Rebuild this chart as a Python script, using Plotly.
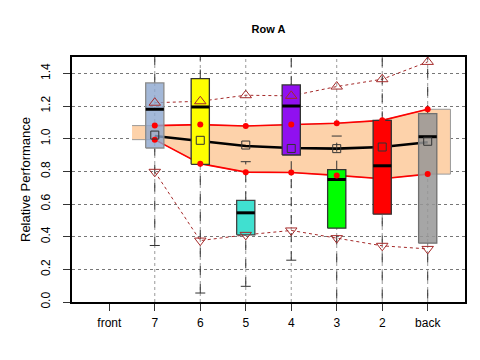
import plotly.graph_objects as go

# categories along the x axis (front has no box)
categories = ["front", "7", "6", "5", "4", "3", "2", "back"]
box_pos = [2, 3, 4, 5, 6, 7, 8]

# box statistics per position 7 .. back
q1 = [0.943, 0.843, 0.411, 0.900, 0.452, 0.538, 0.360]
q3 = [1.341, 1.368, 0.622, 1.329, 0.810, 1.112, 1.153]
median = [1.180, 1.194, 0.546, 1.200, 0.750, 0.834, 1.012]
whisk_lo = [0.346, 0.055, 0.096, 0.256, -0.20, -0.20, -0.20]
whisk_hi = [1.70, 1.70, 0.859, 1.70, 1.016, 1.70, 1.70]
box_fill = ["rgba(140,166,206,0.8)", "#FFFF00", "#40E0D0", "#9010F0",
            "#00FF00", "#FF0000", "rgba(150,150,150,0.85)"]
box_edge = ["#8A8A8A", "#333333", "#444444", "#333333",
            "#333333", "#333333", "#707070"]

# summary lines
mean_sq = [1.022, 0.990, 0.961, 0.940, 0.939, 0.949, 0.984]
trend = [1.016, 0.984, 0.955, 0.943, 0.939, 0.949, 0.978]
band_hi = [1.080, 1.086, 1.078, 1.086, 1.094, 1.112, 1.180]
band_lo = [0.994, 0.847, 0.795, 0.793, 0.775, 0.755, 0.783]
tri_up = [1.220, 1.229, 1.266, 1.262, 1.319, 1.364, 1.470]
tri_dn = [0.797, 0.376, 0.411, 0.438, 0.391, 0.344, 0.325]

y_ticks = [0.0, 0.2, 0.4, 0.6, 0.8, 1.0, 1.2, 1.4]

BROWN = "#A52A2A"
HALF = 0.2   # half box width
CAP = 0.11   # half cap width

fig = go.Figure()

# vertical grid at the box positions
for p in box_pos:
    fig.add_vline(x=p, line=dict(color="#999999", width=1, dash="dot"), layer="below")

# peach band, extended half a step past the first and last box
bx = [box_pos[0] - 0.5] + box_pos + [box_pos[-1] + 0.5, box_pos[-1] + 0.5] \
    + box_pos[::-1] + [box_pos[0] - 0.5]
by = [band_hi[0]] + band_hi + [band_hi[-1], band_lo[-1]] + band_lo[::-1] + [band_lo[0]]
fig.add_trace(go.Scatter(x=bx, y=by, mode="lines", fill="toself",
                         fillcolor="#FDD2AA", line=dict(color="#9A9A9A", width=1)))

# red band edges
for ys in (band_hi, band_lo):
    fig.add_trace(go.Scatter(x=box_pos, y=ys, mode="lines",
                             line=dict(color="#FF0000", width=1.6)))

# black trend line
fig.add_trace(go.Scatter(x=box_pos, y=trend, mode="lines",
                         line=dict(color="black", width=2.6)))

# brown dotted extremes
for ys in (tri_up, tri_dn):
    fig.add_trace(go.Scatter(x=box_pos, y=ys, mode="lines",
                             line=dict(color=BROWN, width=1, dash="dot")))

# whiskers and caps
wx, wy, cx, cy = [], [], [], []
for p, a, b, lo, hi in zip(box_pos, q1, q3, whisk_lo, whisk_hi):
    wx += [p, p, None, p, p, None]
    wy += [lo, a, None, b, hi, None]
    cx += [p - CAP, p + CAP, None, p - CAP, p + CAP, None]
    cy += [lo, lo, None, hi, hi, None]
fig.add_trace(go.Scatter(x=wx, y=wy, mode="lines",
                         line=dict(color="#333333", width=1, dash="dash")))
fig.add_trace(go.Scatter(x=cx, y=cy, mode="lines",
                         line=dict(color="#333333", width=1)))

# boxes with medians
for p, a, b, m, fc, ec in zip(box_pos, q1, q3, median, box_fill, box_edge):
    fig.add_trace(go.Scatter(x=[p - HALF, p + HALF, p + HALF, p - HALF, p - HALF],
                             y=[a, a, b, b, a], mode="lines", fill="toself",
                             fillcolor=fc, line=dict(color=ec, width=1.3)))
    fig.add_trace(go.Scatter(x=[p - HALF, p + HALF], y=[m, m], mode="lines",
                             line=dict(color="black", width=3)))

# markers on top
fig.add_trace(go.Scatter(x=box_pos + box_pos, y=band_hi + band_lo, mode="markers",
                         marker=dict(color="#FF0000", size=6)))
fig.add_trace(go.Scatter(x=box_pos, y=mean_sq, mode="markers",
                         marker=dict(symbol="square-open", size=8, color="#333333",
                                     line=dict(width=1))))
fig.add_trace(go.Scatter(x=box_pos, y=tri_up, mode="markers",
                         marker=dict(symbol="triangle-up-open", size=10, color=BROWN,
                                     line=dict(width=1))))
fig.add_trace(go.Scatter(x=box_pos, y=tri_dn, mode="markers",
                         marker=dict(symbol="triangle-down-open", size=10, color=BROWN,
                                     line=dict(width=1))))

# page body adds an 8px margin, so the figure area is shifted accordingly
fig.update_layout(
    width=480, height=360,
    margin=dict(l=64, r=23, t=49, b=66),
    paper_bgcolor="white", plot_bgcolor="white",
    showlegend=False,
    font=dict(family="Liberation Sans, Arial", size=12, color="black"),
    title=dict(text="<b>Row A</b>", xref="paper", x=0.5, xanchor="center",
               yref="container", y=1 - 17 / 360, yanchor="top",
               font=dict(size=11)),
)
fig.update_xaxes(
    range=[0.18, 8.82], tickvals=list(range(1, len(categories) + 1)), ticktext=categories,
    showgrid=False, zeroline=False, showline=True, mirror=True,
    linecolor="black", linewidth=1.5, ticks="outside", ticklen=7, tickcolor="#333",
    ticklabelstandoff=2,
)
fig.update_yaxes(
    range=[0, 1.5], tickvals=y_ticks, ticktext=[f"{v:.1f}" for v in y_ticks],
    tickangle=-90, showgrid=True, gridcolor="#777777", griddash="dot", gridwidth=1,
    zeroline=False, showline=True, mirror=True, linecolor="black", linewidth=1.5,
    ticks="outside", ticklen=7, tickcolor="#333", ticklabelstandoff=8,
    title=dict(text="Relative Performance", font=dict(size=13), standoff=6),
)

fig.write_html("out.html")
